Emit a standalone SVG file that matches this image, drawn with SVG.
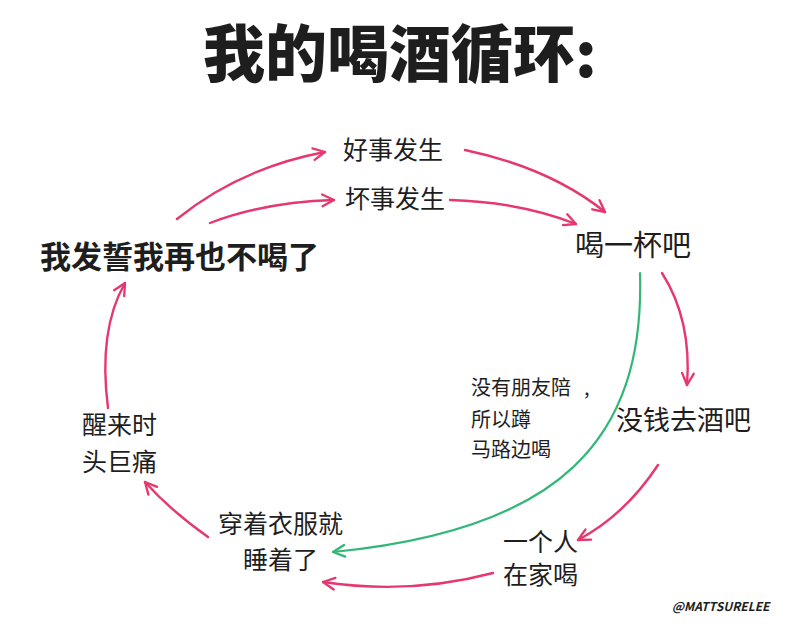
<svg xmlns="http://www.w3.org/2000/svg" width="800" height="640" viewBox="0 0 800 640">
<style>
  text { font-family: "Noto Sans CJK SC", "Noto Sans", sans-serif; fill: #1e1e1e; }
  .n { font-size: 25px; }
  .s { font-size: 20px; }
  .pk { fill: none; stroke: #e6376f; stroke-width: 2.4; stroke-linecap: round; marker-end: url(#ap); }
  .gr { fill: none; stroke: #33b779; stroke-width: 2.2; stroke-linecap: round; marker-end: url(#ag); }
</style>
<defs>
  <marker id="ap" viewBox="0 0 12 12" refX="11" refY="6" markerWidth="14" markerHeight="14" markerUnits="userSpaceOnUse" orient="auto" overflow="visible">
    <path d="M1,1 L11,6 L1,11" fill="none" stroke="#e6376f" stroke-width="2" stroke-linecap="round" stroke-linejoin="round"/>
  </marker>
  <marker id="ag" viewBox="0 0 12 12" refX="11" refY="6" markerWidth="14" markerHeight="14" markerUnits="userSpaceOnUse" orient="auto" overflow="visible">
    <path d="M1,1 L11,6 L1,11" fill="none" stroke="#33b779" stroke-width="2" stroke-linecap="round" stroke-linejoin="round"/>
  </marker>
</defs>
<rect width="800" height="640" fill="#ffffff"/>

<g id="title"><text x="400" y="77" text-anchor="middle" font-size="62" font-weight="900">我的喝酒循环:</text></g>

<g id="connectors">
  <path class="pk" d="M177,219 Q240,168 325,152"/>
  <path class="pk" d="M210,223 Q265,202 334,200"/>
  <path class="pk" d="M465,150 Q550,168 605,212"/>
  <path class="pk" d="M450,200 Q520,202 576,224"/>
  <path class="pk" d="M662,273 Q692,320 687,385"/>
  <path class="gr" d="M640,273 C645,440 560,530 333,552"/>
  <path class="pk" d="M658,465 Q625,515 578,540"/>
  <path class="pk" d="M493,573 Q410,595 323,582"/>
  <path class="pk" d="M208,537 Q170,510 145,482"/>
  <path class="pk" d="M108,408 Q98,330 125,283"/>
</g>

<g id="n-good"><text class="n" x="343" y="159" font-size="26">好事发生</text></g>
<g id="n-bad"><text class="n" x="345" y="208">坏事发生</text></g>
<g id="n-drink"><text x="575" y="256" font-size="29">喝一杯吧</text></g>
<g id="n-vow"><text x="40" y="268" font-size="31" font-weight="bold">我发誓我再也不喝了</text></g>
<g id="n-nomoney"><text x="616" y="430" font-size="27">没钱去酒吧</text></g>
<g id="n-street">
  <text class="s" x="471" y="395">没有朋友陪<tspan x="584">,</tspan></text>
  <text class="s" x="471" y="427">所以蹲</text>
  <text class="s" x="471" y="457">马路边喝</text>
</g>
<g id="n-home">
  <text class="n" x="503" y="551">一个人</text>
  <text class="n" x="503" y="584">在家喝</text>
</g>
<g id="n-sleep">
  <text class="n" x="218" y="533">穿着衣服就</text>
  <text class="n" x="243" y="569">睡着了</text>
</g>
<g id="n-wake">
  <text class="n" x="82" y="434">醒来时</text>
  <text class="n" x="82" y="471">头巨痛</text>
</g>
<g id="credit"><text x="672" y="611" font-size="12" font-weight="bold" font-style="italic" fill="#333">@MATTSURELEE</text></g>
</svg>
